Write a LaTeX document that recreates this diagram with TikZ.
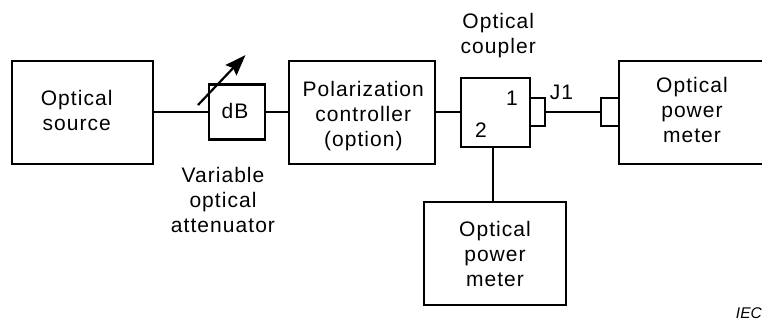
\documentclass[tikz,border=0pt]{standalone}
\usepackage{fontspec}
\setmainfont{Liberation Sans}
\newfontfamily\spaced[LetterSpace=5]{Liberation Sans}
\usetikzlibrary{arrows.meta}
\begin{document}
\begin{tikzpicture}[x=1pt,y=-1pt,
  blk/.style={draw=black,line width=2.2pt,fill=white,inner sep=0pt,outer sep=0pt,anchor=north west},
  thinblk/.style={blk,line width=1.7pt},
  lbl/.style={font=\spaced\fontsize{21}{25}\selectfont,align=center,text=black,inner sep=0pt,anchor=base},
  wire/.style={draw=black,line width=1.7pt}]
\useasboundingbox (0,0) rectangle (762,322);
\clip (0,0) rectangle (762,322);
\node[blk,minimum width=141pt,minimum height=103pt] (src) at (12,61) {};
\node[blk,minimum width=56pt,minimum height=55pt] (db) at (209,84.5) {};
\node[blk,minimum width=146pt,minimum height=103pt] (pol) at (289,61) {};
\node[thinblk,minimum width=15pt,minimum height=28pt] (c1) at (530,98) {};
\node[thinblk,minimum width=18pt,minimum height=28pt] (c2) at (601,98) {};
\node[thinblk,minimum width=69pt,minimum height=69pt] (cpl) at (461,78) {};
\node[blk,line width=2.6pt,minimum width=160pt,minimum height=103pt] (pm1) at (619,61) {};
\node[blk,minimum width=142pt,minimum height=103pt] (pm2) at (424,202) {};
\draw[wire] (src.east |- db.west) -- (db.west);
\draw[wire] (db.east) -- (db.east -| pol.west);
\draw[wire] (db.east -| pol.east) -- (db.east -| cpl.west);
\draw[wire] (c1.east) -- (c2.west);
\draw[wire] (493,147) -- (493,202);
\coordinate (as) at (198,105);
\coordinate (at) at (245.5,55);
\draw[black,line width=2.2pt,-{Stealth[length=21pt,width=15pt,inset=3pt]}] (as) -- (at);
\node[lbl] (t1) at (76.7,130) {Optical\\source};
\node[lbl] (t2) at (235,118) {dB};
\node[lbl] (t3) at (363.3,146) {Polarization\\controller\\(option)};
\node[lbl] (t4) at (498.3,53) {Optical\\coupler};
\node[lbl] (t5) at (223,232) {Variable\\optical\\attenuator};
\node[lbl] (t6) at (512,105) {1};
\node[lbl] (t7) at (481,137) {2};
\node[lbl] (t8) at (561.5,99) {J1};
\node[lbl] (t9) at (692,142) {Optical\\power\\meter};
\node[lbl] (t10) at (495,286) {Optical\\power\\meter};
\node[font=\fontsize{15.5}{18}\selectfont\itshape,text=black,inner sep=0pt,anchor=base east] (iec) at (762,318) {IEC};
\end{tikzpicture}
\end{document}
